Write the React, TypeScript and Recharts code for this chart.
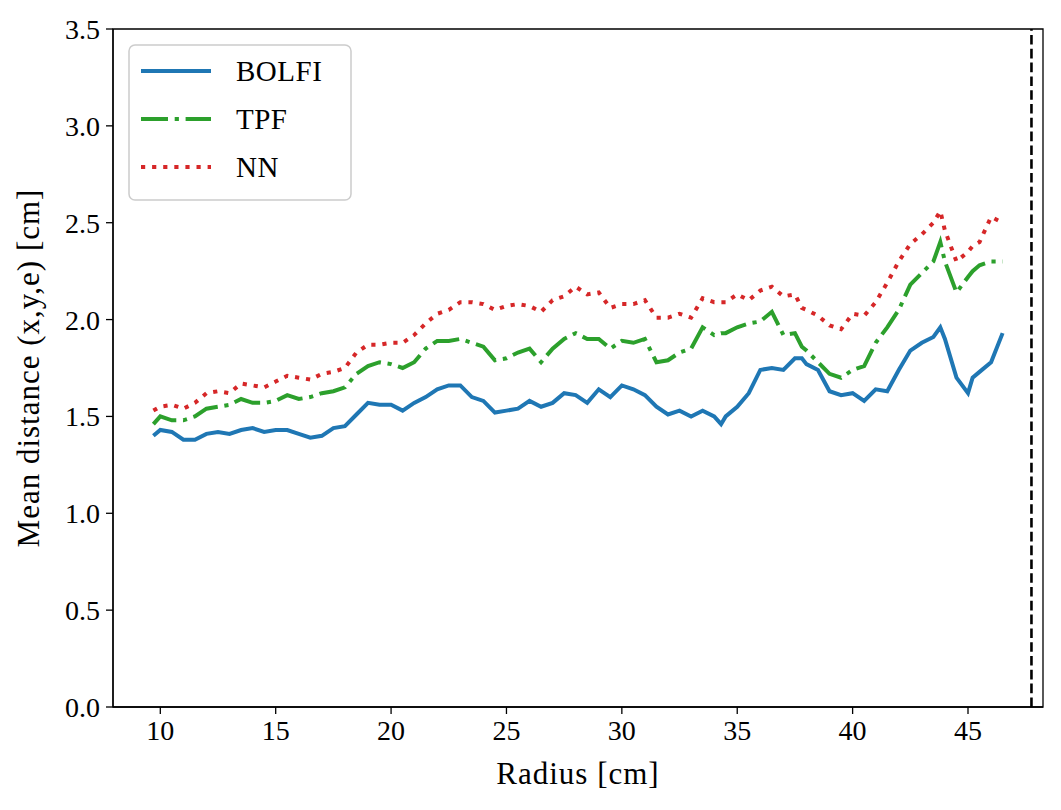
import React from 'react';
import {
  LineChart,
  Line,
  XAxis,
  YAxis,
  ReferenceLine,
  ReferenceArea,
  Legend,
} from 'recharts';

// radius [cm] sampled off the figure
const radius = [
  9.7, 10, 10.5, 11, 11.5, 12, 12.5, 13, 13.5, 14, 14.5, 15, 15.5, 16, 16.5, 17, 17.5, 18, 18.5, 19,
  19.5, 20, 20.5, 21, 21.5, 22, 22.5, 23, 23.5, 24, 24.5, 25, 25.5, 26, 26.5, 27, 27.5, 28, 28.5, 29,
  29.5, 30, 30.5, 31, 31.5, 32, 32.5, 33, 33.5, 34, 34.3, 34.5, 35, 35.5, 36, 36.5, 37, 37.5, 37.8, 38,
  38.5, 39, 39.5, 40, 40.5, 41, 41.5, 42, 42.5, 43, 43.5, 43.8, 44, 44.5, 45, 45.2, 45.5, 46, 46.5,
];

const bolfi = [
  1.40, 1.43, 1.42, 1.38, 1.38, 1.41, 1.42, 1.41, 1.43, 1.44, 1.42, 1.43, 1.43, 1.41, 1.39, 1.40, 1.44, 1.45, 1.51, 1.57,
  1.56, 1.56, 1.53, 1.57, 1.60, 1.64, 1.66, 1.66, 1.60, 1.58, 1.52, 1.53, 1.54, 1.58, 1.55, 1.57, 1.62, 1.61, 1.57, 1.64,
  1.60, 1.66, 1.64, 1.61, 1.55, 1.51, 1.53, 1.50, 1.53, 1.50, 1.46, 1.50, 1.55, 1.62, 1.74, 1.75, 1.74, 1.80, 1.80, 1.77,
  1.74, 1.63, 1.61, 1.62, 1.58, 1.64, 1.63, 1.74, 1.84, 1.88, 1.91, 1.96, 1.90, 1.70, 1.62, 1.70, 1.73, 1.78, 1.93,
];

const tpf = [
  1.46, 1.50, 1.48, 1.48, 1.50, 1.54, 1.55, 1.56, 1.59, 1.57, 1.57, 1.58, 1.61, 1.59, 1.60, 1.62, 1.63, 1.65, 1.72, 1.76,
  1.78, 1.77, 1.75, 1.78, 1.85, 1.89, 1.89, 1.90, 1.88, 1.86, 1.79, 1.80, 1.83, 1.85, 1.78, 1.85, 1.90, 1.93, 1.90, 1.90,
  1.85, 1.89, 1.88, 1.90, 1.78, 1.79, 1.83, 1.85, 1.96, 1.92, 1.93, 1.93, 1.96, 1.98, 1.99, 2.04, 1.92, 1.93, 1.86, 1.84,
  1.78, 1.72, 1.70, 1.74, 1.76, 1.88, 1.96, 2.05, 2.18, 2.24, 2.30, 2.40, 2.30, 2.14, 2.22, 2.25, 2.28, 2.30, 2.30,
];

const nn = [
  1.53, 1.55, 1.56, 1.54, 1.57, 1.62, 1.63, 1.62, 1.67, 1.66, 1.65, 1.68, 1.71, 1.70, 1.69, 1.72, 1.73, 1.75, 1.83, 1.87,
  1.87, 1.88, 1.88, 1.92, 1.98, 2.03, 2.05, 2.09, 2.09, 2.08, 2.05, 2.07, 2.08, 2.07, 2.04, 2.10, 2.12, 2.17, 2.13, 2.14,
  2.06, 2.08, 2.08, 2.10, 2.01, 2.01, 2.03, 2.01, 2.11, 2.09, 2.09, 2.09, 2.13, 2.10, 2.15, 2.17, 2.12, 2.13, 2.06, 2.05,
  2.02, 1.97, 1.95, 2.03, 2.02, 2.09, 2.19, 2.30, 2.39, 2.44, 2.50, 2.56, 2.46, 2.30, 2.35, 2.38, 2.40, 2.53, 2.50,
];

const xTicks = [10, 15, 20, 25, 30, 35, 40, 45];
const yTicks = [0, 0.5, 1, 1.5, 2, 2.5, 3, 3.5];
const xDomain: [number, number] = [7.95, 48.25];
const yDomain: [number, number] = [0, 3.5];
const maxRadius = 47.75;

const data = radius.map((r, i) => ({ r, bolfi: bolfi[i], tpf: tpf[i], nn: nn[i] }));

const FONT = '"Liberation Serif", "DejaVu Serif", serif';
const tickStyle = { fontSize: 28, fill: '#000', fontFamily: FONT };
const labelStyle = { fontSize: 31, fill: '#000', fontFamily: FONT, letterSpacing: 1 };

const series = [
  { key: 'bolfi', name: 'BOLFI', color: '#1f77b4', dash: undefined },
  { key: 'tpf', name: 'TPF', color: '#2ca02c', dash: '27 6.7 4.2 6.7' },
  { key: 'nn', name: 'NN', color: '#d62728', dash: '4.2 6.9' },
];

const LegendBox = () => (
  <svg width={224} height={157} style={{ display: 'block' }}>
    <rect x={1} y={1} width={222} height={155} rx={6} fill="#fff" fillOpacity={0.8} stroke="#cccccc" strokeWidth={1.5} />
    {series.map((s, i) => {
      const cy = 27 + i * 48;
      return (
        <g key={s.key}>
          <line x1={13} x2={83} y1={cy} y2={cy} stroke={s.color} strokeWidth={4} strokeDasharray={s.dash} />
          <text x={108} y={cy} dominantBaseline="central" fontSize={29} fontFamily={FONT} fill="#000" letterSpacing={0.5}>
            {s.name}
          </text>
        </g>
      );
    })}
  </svg>
);

export default function App() {
  return (
    <LineChart
      width={1050}
      height={795}
      data={data}
      margin={{ top: 21, right: 15, left: 20, bottom: 0 }}
    >
      <XAxis
        dataKey="r"
        type="number"
        domain={xDomain}
        ticks={xTicks}
        allowDataOverflow
        tick={tickStyle}
        tickSize={7}
        tickMargin={6}
        height={96}
        stroke="#000"
        strokeWidth={1.3}
        label={{ value: 'Radius [cm]', position: 'insideBottom', offset: 19, style: labelStyle }}
      />
      <YAxis
        type="number"
        domain={yDomain}
        ticks={yTicks}
        allowDataOverflow
        tickFormatter={(v: number) => v.toFixed(1)}
        tick={tickStyle}
        tickSize={7}
        tickMargin={6}
        width={85}
        stroke="#000"
        strokeWidth={1.3}
        label={{
          value: 'Mean distance (x,y,e) [cm]',
          angle: -90,
          position: 'insideLeft',
          offset: 0,
          style: { ...labelStyle, textAnchor: 'middle' },
        }}
      />
      <ReferenceArea x1={xDomain[0]} x2={xDomain[1]} y1={yDomain[0]} y2={yDomain[1]} fill="none" stroke="#000" strokeWidth={1.3} />
      <ReferenceLine x={maxRadius} stroke="#000" strokeWidth={2.6} strokeDasharray="9.6 4.2" />
      {series.map((s) => (
        <Line
          key={s.key}
          type="linear"
          dataKey={s.key}
          name={s.name}
          stroke={s.color}
          strokeWidth={4}
          strokeDasharray={s.dash}
          dot={false}
          activeDot={false}
          isAnimationActive={false}
        />
      ))}
      <Legend
        layout="vertical"
        align="center"
        verticalAlign="middle"
        content={() => <LegendBox />}
        wrapperStyle={{ left: 120, top: 36, width: 224, height: 157 }}
      />
    </LineChart>
  );
}
